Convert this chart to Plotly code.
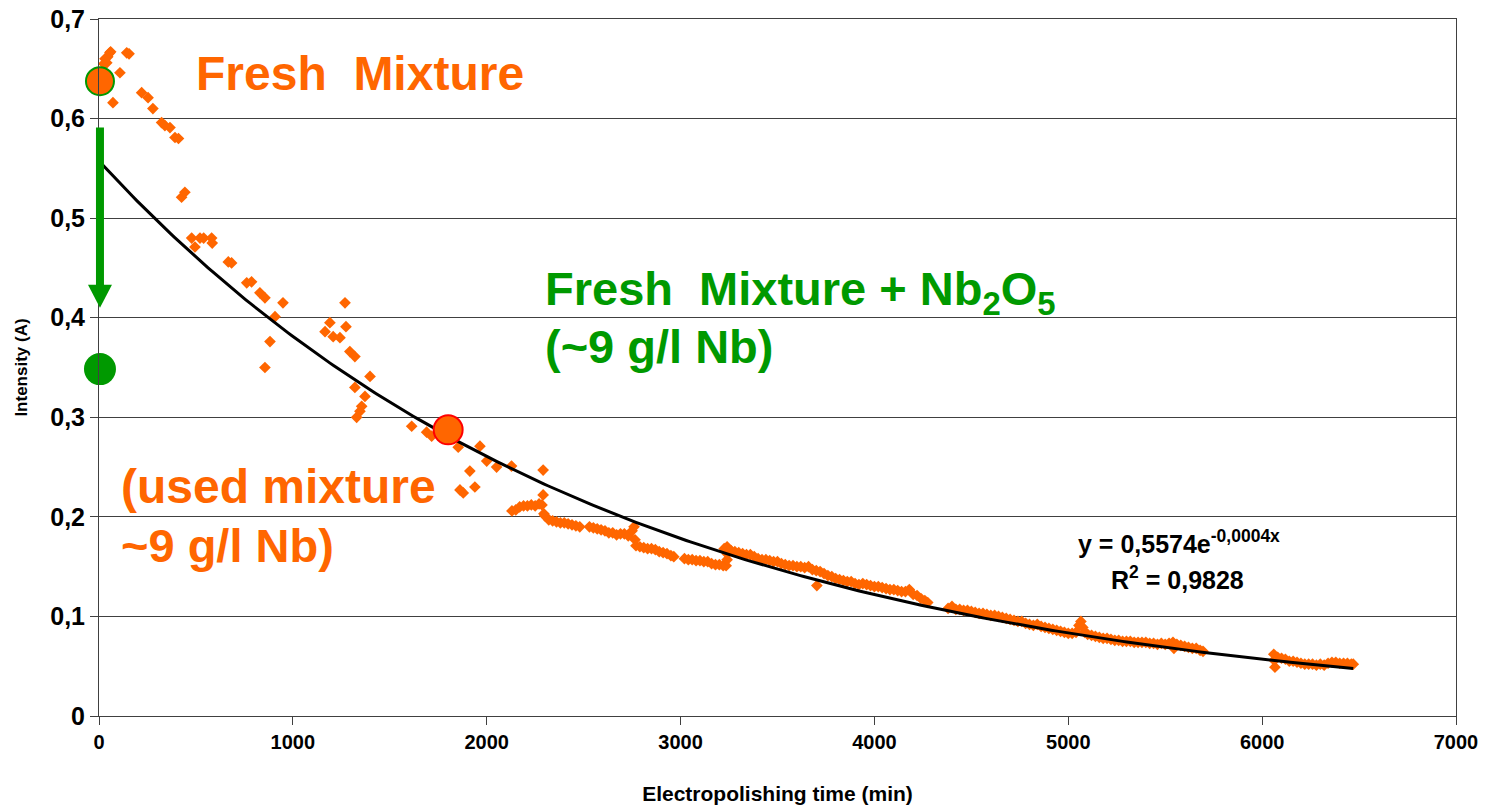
import numpy as np
import plotly.graph_objects as go

# ---------------- data ----------------
time_min = [
    25, 31, 40, 45, 56, 60, 72, 108, 143, 155,
    220, 253, 278, 323, 340, 366, 392, 410,
    426, 443, 478, 495, 521, 540, 581, 584, 667, 684,
    762, 787, 830, 856, 856, 882, 908, 949,
    1166, 1191, 1208, 1243, 1269, 1274, 1294, 1320, 1320, 1329, 1346, 1355, 1372, 1398,
    1613, 1690, 1716, 1853, 1862, 1879, 1913, 1939, 1965, 2000, 2051, 2128,
    2130, 2150, 2170, 2190, 2210, 2230, 2250, 2270, 2285, 2291, 2291, 2295,
    2300, 2320, 2340, 2360, 2380, 2400, 2420, 2440, 2460, 2480,
    2530, 2550, 2570, 2590, 2610, 2630, 2650, 2670, 2690, 2710, 2730, 2750, 2760,
    2765, 2770, 2790, 2810, 2830, 2850, 2870, 2890, 2910, 2930, 2950, 2965,
    3020, 3040, 3060, 3080, 3100, 3120, 3140, 3160, 3180, 3200, 3220, 3235, 3240, 3240,
    3225, 3240, 3260, 3280, 3300, 3320, 3340, 3360, 3380, 3400, 3420, 3440, 3460, 3480,
    3500, 3520, 3540, 3560, 3580, 3600, 3620, 3640, 3660, 3680, 3700, 3703,
    3720, 3740, 3760, 3780, 3800, 3820, 3840, 3860, 3880, 3900, 3920, 3940, 3960, 3980,
    4000, 4020, 4040, 4060, 4080, 4100, 4120, 4140, 4160, 4180, 4200, 4220, 4240, 4260, 4275,
    4380, 4400, 4420, 4440, 4460, 4480, 4500, 4520, 4540, 4560, 4580, 4600, 4620, 4640,
    4660, 4680, 4700, 4720, 4740, 4760, 4780, 4800, 4820, 4840, 4860, 4880, 4900, 4920,
    4940, 4960, 4980, 5000, 5020, 5040, 5055, 5065, 5075, 5085, 5100, 5120, 5140, 5160,
    5180, 5200, 5220, 5240, 5260, 5280, 5300, 5320, 5340, 5360, 5380, 5400, 5420, 5440,
    5460, 5480, 5500, 5520, 5540, 5545, 5560, 5580, 5600, 5620, 5640, 5660, 5680, 5695,
    6060, 6062, 6066, 6080, 6100, 6120, 6140, 6160, 6180, 6200, 6220, 6240, 6260, 6280,
    6300, 6320, 6340, 6360, 6380, 6400, 6420, 6440, 6460, 6470,
]
intensity_A = [
    0.655, 0.660, 0.656, 0.662, 0.666, 0.667, 0.616, 0.646, 0.666, 0.665,
    0.626, 0.621, 0.610, 0.596, 0.593, 0.591, 0.581, 0.580,
    0.521, 0.526, 0.480, 0.471, 0.480, 0.480, 0.480, 0.475, 0.456, 0.455,
    0.435, 0.436, 0.425, 0.420, 0.350, 0.376, 0.401, 0.415,
    0.386, 0.395, 0.381, 0.380, 0.415, 0.391, 0.366, 0.361, 0.330, 0.300, 0.306, 0.311, 0.321, 0.341,
    0.291, 0.285, 0.281, 0.270, 0.227, 0.224, 0.246, 0.230, 0.271, 0.256, 0.250, 0.251,
    0.206, 0.207, 0.210, 0.211, 0.211, 0.212, 0.211, 0.213, 0.212, 0.222, 0.247, 0.203,
    0.201, 0.197, 0.196, 0.195, 0.194, 0.194, 0.193, 0.192, 0.191, 0.190,
    0.190, 0.189, 0.188, 0.187, 0.186, 0.184, 0.184, 0.182, 0.183, 0.183, 0.181, 0.186, 0.190,
    0.177, 0.171, 0.170, 0.169, 0.168, 0.168, 0.167, 0.165, 0.164, 0.163, 0.161, 0.160,
    0.158, 0.157, 0.157, 0.156, 0.156, 0.155, 0.155, 0.153, 0.152, 0.152, 0.151, 0.151, 0.157, 0.163,
    0.168, 0.170, 0.166, 0.165, 0.164, 0.163, 0.162, 0.162, 0.160, 0.158, 0.157, 0.157, 0.156, 0.155,
    0.155, 0.153, 0.152, 0.151, 0.151, 0.150, 0.150, 0.149, 0.150, 0.147, 0.146, 0.131,
    0.145, 0.143, 0.141, 0.140, 0.138, 0.137, 0.136, 0.135, 0.135, 0.133, 0.132, 0.133, 0.132, 0.131,
    0.130, 0.130, 0.129, 0.128, 0.127, 0.127, 0.126, 0.125, 0.125, 0.127, 0.122, 0.121, 0.118, 0.116, 0.114,
    0.108, 0.110, 0.107, 0.107, 0.106, 0.106, 0.105, 0.104, 0.103, 0.103, 0.102, 0.101, 0.101, 0.100,
    0.099, 0.098, 0.097, 0.096, 0.095, 0.095, 0.093, 0.092, 0.091, 0.092, 0.090, 0.089, 0.088, 0.087,
    0.086, 0.085, 0.084, 0.083, 0.083, 0.084, 0.091, 0.095, 0.089, 0.084, 0.082, 0.081, 0.080, 0.079,
    0.078, 0.078, 0.077, 0.076, 0.076, 0.075, 0.075, 0.075, 0.074, 0.074, 0.074, 0.074, 0.073, 0.073,
    0.072, 0.073, 0.072, 0.073, 0.074, 0.068, 0.072, 0.071, 0.070, 0.069, 0.068, 0.068, 0.066, 0.065,
    0.062, 0.056, 0.049, 0.059, 0.058, 0.057, 0.055, 0.055, 0.054, 0.053, 0.052, 0.052, 0.052, 0.051,
    0.052, 0.051, 0.053, 0.054, 0.054, 0.053, 0.053, 0.053, 0.052, 0.052,
]

# highlighted points
fresh_point = (5, 0.6375)          # fresh mixture (orange, green edge)
fresh_nb_point = (5, 0.3484)       # fresh mixture + Nb2O5 (green)
used_point = (1801, 0.2874)        # used mixture (orange, red edge)

# exponential trendline  y = A * exp(-k x)
trend_A = 0.5574
trend_k = 0.00038
trend_x_end = 6470

# arrow (fresh -> fresh + Nb2O5)
arrow_x = 5
arrow_y_start = 0.591
arrow_y_tip = 0.410

X_RANGE = [0, 7000]
Y_RANGE = [0, 0.7]
x_tickvals = [0, 1000, 2000, 3000, 4000, 5000, 6000, 7000]
x_ticktext = ["0", "1000", "2000", "3000", "4000", "5000", "6000", "7000"]
y_tickvals = [0, 0.1, 0.2, 0.3, 0.4, 0.5, 0.6, 0.7]
y_ticktext = ["0", "0,1", "0,2", "0,3", "0,4", "0,5", "0,6", "0,7"]

ORANGE = "#FF6600"
GREEN = "#009900"
FONT = "Liberation Sans, Arial, sans-serif"

# ---------------- figure ----------------
W, H = 1498, 805
L, R, T, B = 99, 42, 19, 89
PW, PH = W - L - R, H - T - B


def pxx(xp):
    return (xp - L) / PW


def pxy(yp):
    return (H - B - yp) / PH


def dx2paper(v):
    return (v - X_RANGE[0]) / (X_RANGE[1] - X_RANGE[0])


def dy2paper(v):
    return (v - Y_RANGE[0]) / (Y_RANGE[1] - Y_RANGE[0])


fig = go.Figure()

fig.add_trace(go.Scatter(
    x=time_min, y=intensity_A, mode="markers",
    marker=dict(symbol="diamond", size=9, color=ORANGE, line=dict(width=0)),
    showlegend=False, hoverinfo="x+y",
))

tx = np.linspace(0, trend_x_end, 300)
fig.add_trace(go.Scatter(
    x=tx, y=trend_A * np.exp(-trend_k * tx), mode="lines",
    line=dict(color="black", width=3), showlegend=False, hoverinfo="skip",
))

fig.add_trace(go.Scatter(
    x=[fresh_point[0]], y=[fresh_point[1]], mode="markers", cliponaxis=False,
    marker=dict(symbol="circle", size=28, color=ORANGE, line=dict(color=GREEN, width=2)),
    showlegend=False,
))
fig.add_trace(go.Scatter(
    x=[fresh_nb_point[0]], y=[fresh_nb_point[1]], mode="markers", cliponaxis=False,
    marker=dict(symbol="circle", size=32, color=GREEN, line=dict(width=0)),
    showlegend=False,
))
fig.add_trace(go.Scatter(
    x=[used_point[0]], y=[used_point[1]], mode="markers", cliponaxis=False,
    marker=dict(symbol="circle", size=29, color=ORANGE, line=dict(color="#FF0000", width=2)),
    showlegend=False,
))

# arrow shaft and head (paper-referenced so they are not clipped at the axis)
fig.add_shape(type="line", xref="paper", yref="paper",
              x0=dx2paper(arrow_x), x1=dx2paper(arrow_x),
              y0=dy2paper(arrow_y_start), y1=dy2paper(arrow_y_tip) + 20 / PH,
              line=dict(color=GREEN, width=8), layer="above")
fig.add_shape(type="path", xref="paper", yref="paper", xsizemode="pixel", ysizemode="pixel",
              xanchor=dx2paper(arrow_x), yanchor=dy2paper(arrow_y_tip),
              path="M-12,23 L12,23 L0,0 Z", fillcolor=GREEN, line=dict(width=0),
              layer="above")


def add_text(text, xp, yp, color, size=47, xanchor="left"):
    fig.add_annotation(text=text, xref="paper", yref="paper", x=pxx(xp), y=pxy(yp),
                       xanchor=xanchor, yanchor="middle", showarrow=False,
                       font=dict(family=FONT, size=size, color=color, weight="bold"))


add_text("Fresh\u00a0 Mixture", 194, 73, ORANGE, size=48)
add_text("Fresh\u00a0 Mixture + Nb<sub>2</sub>O<sub>5</sub>", 543, 292, GREEN)
add_text("(~9 g/l Nb)", 543, 346, GREEN)
add_text("(used mixture", 119, 486, ORANGE, size=48)
add_text("~9 g/l Nb)", 119, 545, ORANGE)
add_text("y = 0,5574e<sup>-0,0004x</sup>", 1179, 542, "black", size=25, xanchor="center")
add_text("R<sup>2</sup> = 0,9828", 1177, 578, "black", size=25, xanchor="center")

axis_common = dict(
    showline=True, linecolor="#404040", linewidth=1, mirror=True,
    ticks="outside", ticklen=8, tickcolor="#404040", tickwidth=1,
    zeroline=False, automargin=False,
)

fig.update_layout(
    width=W, height=H, autosize=False,
    margin=dict(l=L, r=R, t=T, b=B, pad=0),
    paper_bgcolor="white", plot_bgcolor="white",
    showlegend=False,
    xaxis=dict(
        range=X_RANGE, tickvals=x_tickvals, ticktext=x_ticktext,
        showgrid=False,
        tickfont=dict(family=FONT, size=20, color="black", weight="bold"),
        title=dict(text="Electropolishing time (min)", standoff=34,
                   font=dict(family=FONT, size=21, color="black", weight="bold")),
        **axis_common,
    ),
    yaxis=dict(
        range=Y_RANGE, tickvals=y_tickvals, ticktext=y_ticktext,
        showgrid=True, gridcolor="#404040", gridwidth=1,
        tickfont=dict(family=FONT, size=25, color="black", weight="bold"),
        title=dict(text="Intensity (A)", standoff=18,
                   font=dict(family=FONT, size=17, color="black", weight="bold")),
        **axis_common,
    ),
)

fig.write_html("out.html")
